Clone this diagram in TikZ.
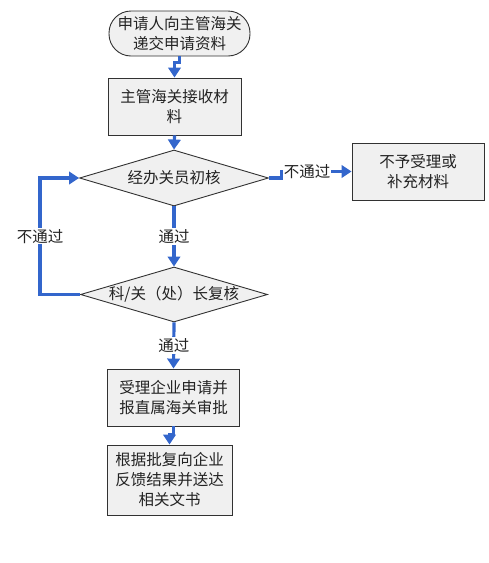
\documentclass[tikz,border=0pt]{standalone}
\usepackage{fontspec}
\setmainfont{Noto Sans CJK SC}
\usetikzlibrary{shapes.geometric,arrows.meta}
\definecolor{flowblue}{RGB}{51,102,204}
\definecolor{boxfill}{RGB}{240,240,240}
\definecolor{boxline}{RGB}{50,50,50}
\definecolor{txt}{RGB}{35,35,35}
\begin{document}
\begin{tikzpicture}[x=1pt,y=-1pt,
  base/.style={draw=boxline, fill=boxfill, line width=0.9pt, inner sep=0pt, align=center, text=txt,
    font=\fontsize{15.5}{20}\selectfont},
  procbox/.style={base, rectangle},
  termbox/.style={base, rectangle, rounded corners=22pt},
  decbox/.style={base, diamond, shape aspect=3.4},
  flow/.style={draw=flowblue, line width=3.2pt, -{Triangle[length=10pt,width=12.5pt]}},
  lbl/.style={fill=white, inner sep=1pt, text=txt, font=\fontsize{15.5}{20}\selectfont}
]
\useasboundingbox (0,0) rectangle (488,563);
\fill[white] (0,0) rectangle (488,563);

\node[termbox, minimum width=141pt, minimum height=45pt] (t1) at (179.5,33.5) {申请人向主管海关\\递交申请资料};
\node[procbox, minimum width=133pt, minimum height=57pt] (b2) at (174.5,106.5) {主管海关接收材\\料};
\node[decbox, minimum width=189pt, minimum height=56pt] (d1) at (174,178) {经办关员初核};
\node[procbox, minimum width=132pt, minimum height=57pt] (b3) at (418,171.5) {不予受理或\\补充材料};
\node[decbox, minimum width=187pt, minimum height=55pt] (d2) at (174,294.5) {科/关（处）长复核};
\node[procbox, minimum width=132pt, minimum height=57pt] (b4) at (173.5,397.5) {受理企业申请并\\报直属海关审批};
\node[procbox, minimum width=125pt, minimum height=70pt] (b5) at (169.5,480) {根据批复向企业\\反馈结果并送达\\相关文书};

\draw[flow] (t1.south) -- ++(0,6) -| (b2.north);
\draw[flow] (b2.south) -- (d1.north);
\draw[flow] (d1.east) -- ++(13,0) |- (b3.west) node[lbl, pos=0.68] {不通过};
\draw[flow] (d1.south) -- (d2.north) node[lbl, midway] {通过};
\draw[flow] (d2.west) -- ++(-40,0) |- (d1.west) node[lbl, pos=0.25] {不通过};
\draw[flow] (d2.south) -- (b4.north) node[lbl, midway] {通过};
\draw[flow] (b4.south) -- ++(0,8) -| (b5.north);
\end{tikzpicture}
\end{document}
